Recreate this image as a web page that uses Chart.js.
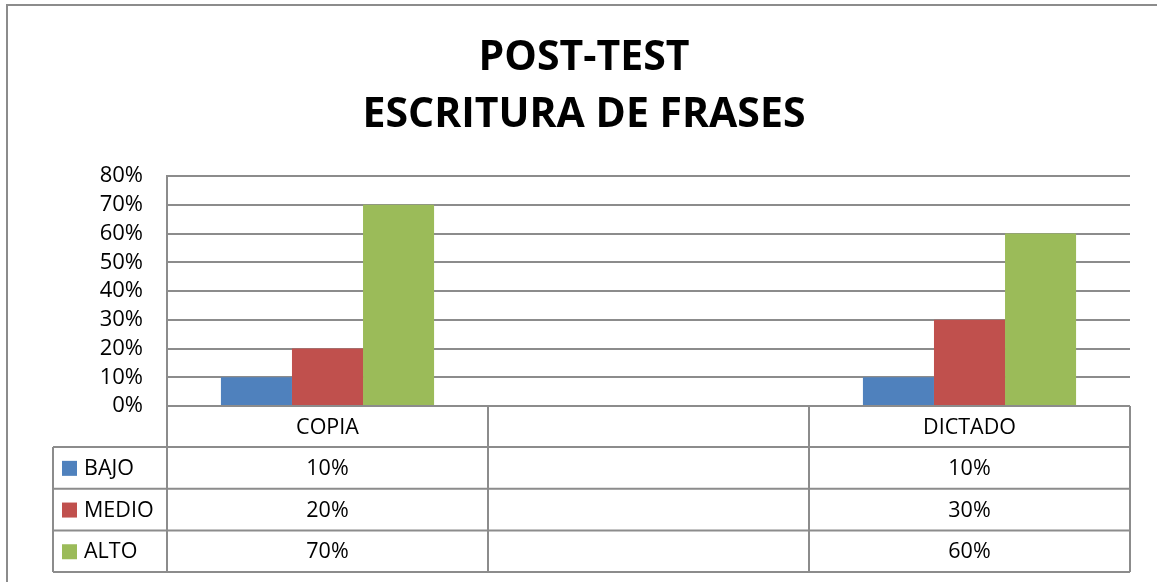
<!DOCTYPE html>
<html>
<head>
<meta charset="utf-8">
<script src="https://cdn.jsdelivr.net/npm/chart.js@4/dist/chart.umd.min.js"></script>
<style>
html,body{margin:0;padding:0;background:#fff;}
#wrap{width:1157px;height:582px;position:relative;}
</style>
</head>
<body>
<div id="wrap"><canvas id="c" width="1157" height="582"></canvas></div>
<script>
const titleLines = ['POST-TEST', 'ESCRITURA DE FRASES'];
const categories = ['COPIA', '', 'DICTADO'];
const seriesNames = ['BAJO', 'MEDIO', 'ALTO'];
const bajo  = [0.10, null, 0.10];
const medio = [0.20, null, 0.30];
const alto  = [0.70, null, 0.60];
const yTicksMax = 0.8;
const yTickStep = 0.1;

const colors = ['#4F81BD', '#C0504D', '#9BBB59'];
const lineColor = '#8c8c8c';
const FONT = '"Open Sans", "Liberation Sans", sans-serif';

const pct = v => Math.round(v * 100) + '%';

const tablePlugin = {
  id: 'dataTable',
  beforeDraw(chart) {
    const ctx = chart.ctx;
    ctx.save();
    ctx.fillStyle = '#fff';
    ctx.fillRect(0, 0, chart.width, chart.height);
    ctx.strokeStyle = lineColor;
    ctx.lineWidth = 2;
    ctx.beginPath();
    ctx.moveTo(7, chart.height);
    ctx.lineTo(7, 5);
    ctx.lineTo(chart.width, 5);
    ctx.stroke();
    ctx.fillStyle = '#000';
    ctx.font = 'bold 41px ' + FONT;
    ctx.textAlign = 'center';
    ctx.textBaseline = 'middle';
    ctx.fillText(titleLines[0], 584, 58);
    ctx.fillText(titleLines[1], 584, 115);
    ctx.restore();
  },
  afterDraw(chart) {
    const ctx = chart.ctx;
    const area = chart.chartArea;
    const x = chart.scales.x;
    const n = categories.length;
    const colW = (area.right - area.left) / n;
    const headerBottom = area.bottom + 41;
    const rowH = 41.7;
    const tableBottom = headerBottom + rowH * seriesNames.length;
    const legendLeft = 53;
    ctx.save();
    ctx.strokeStyle = lineColor;
    ctx.lineWidth = 2;
    ctx.beginPath();
    ctx.moveTo(area.left, area.bottom);
    ctx.lineTo(area.right, area.bottom);
    for (let i = 0; i <= n; i++) {
      const xx = area.left + i * colW;
      ctx.moveTo(xx, area.bottom);
      ctx.lineTo(xx, tableBottom);
    }
    for (let r = 0; r <= seriesNames.length; r++) {
      const yy = headerBottom + r * rowH;
      ctx.moveTo(legendLeft, yy);
      ctx.lineTo(area.right, yy);
    }
    ctx.moveTo(legendLeft, headerBottom);
    ctx.lineTo(legendLeft, tableBottom);
    ctx.stroke();

    ctx.fillStyle = '#000';
    ctx.font = '21.5px ' + FONT;
    ctx.textAlign = 'center';
    ctx.textBaseline = 'middle';
    categories.forEach((c, i) => {
      const cx = x.getPixelForValue(i);
      ctx.fillText(c, cx, (area.bottom + headerBottom) / 2 + 1);
    });
    chart.data.datasets.forEach((ds, r) => {
      const cy = headerBottom + r * rowH + rowH / 2 + 1;
      ctx.fillStyle = ds.backgroundColor;
      ctx.fillRect(62, cy - 8, 15, 15);
      ctx.fillStyle = '#000';
      ctx.textAlign = 'left';
      ctx.fillText(ds.label, 84, cy);
      ctx.textAlign = 'center';
      ds.data.forEach((v, i) => {
        if (v === null || v === undefined) return;
        ctx.fillText(pct(v), x.getPixelForValue(i), cy);
      });
    });
    ctx.restore();
  }
};

new Chart(document.getElementById('c'), {
  type: 'bar',
  data: {
    labels: categories,
    datasets: [
      { label: seriesNames[0], data: bajo,  backgroundColor: colors[0] },
      { label: seriesNames[1], data: medio, backgroundColor: colors[1] },
      { label: seriesNames[2], data: alto,  backgroundColor: colors[2] }
    ]
  },
  options: {
    responsive: false,
    animation: false,
    devicePixelRatio: 1,
    categoryPercentage: 0.664,
    barPercentage: 1,
    layout: { padding: { left: 0, right: 27, top: 176, bottom: 10 } },
    plugins: {
      legend: { display: false },
      tooltip: { enabled: false },
      title: { display: false }
    },
    scales: {
      x: {
        ticks: { display: false },
        grid: { display: false, drawTicks: false },
        border: { display: false },
        afterFit(s) { s.height = 166; }
      },
      y: {
        min: 0,
        max: yTicksMax,
        ticks: {
          stepSize: yTickStep,
          autoSkip: false,
          callback: v => pct(v),
          color: '#000',
          padding: 24,
          font: { family: FONT, size: 22 }
        },
        grid: { color: lineColor, lineWidth: 2, drawTicks: false },
        border: { display: true, color: lineColor, width: 2 },
        afterFit(s) { s.width = 167; }
      }
    }
  },
  plugins: [tablePlugin]
});
</script>
</body>
</html>
